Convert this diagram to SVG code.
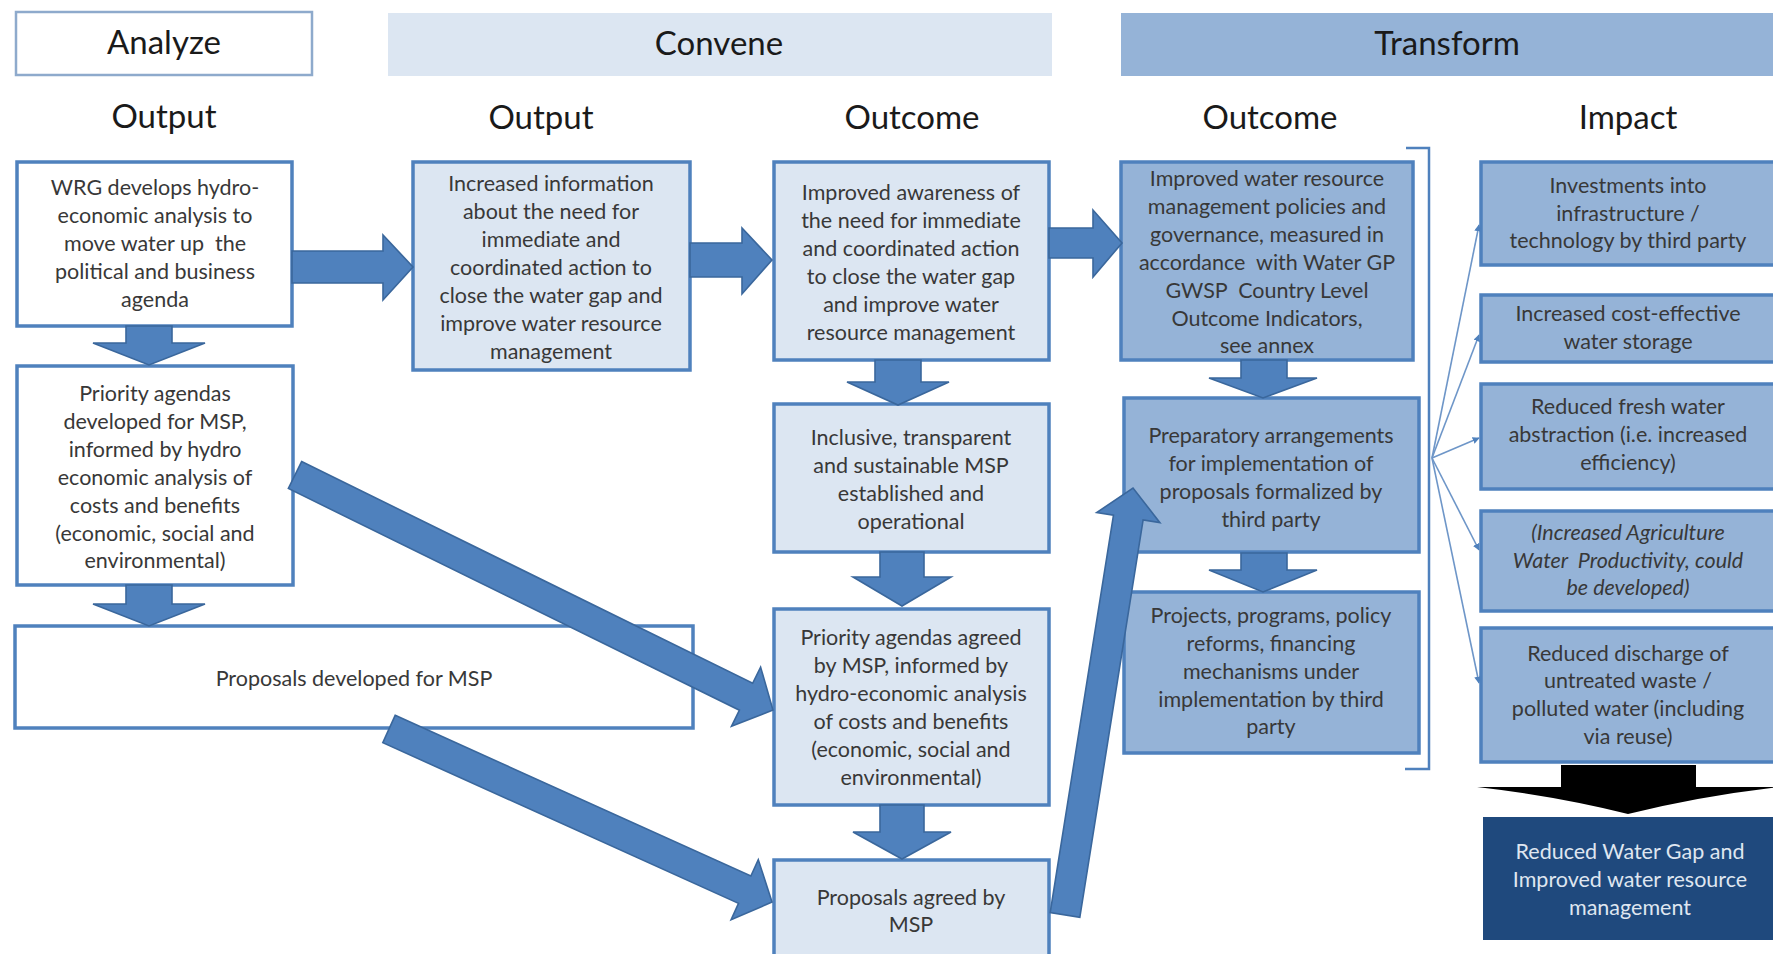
<svg xmlns="http://www.w3.org/2000/svg" width="1773" height="954" viewBox="0 0 1773 954">
<style>
text{font-family:Lato,"Liberation Sans",sans-serif;text-anchor:middle;}
.hd{font-size:33px;fill:#1a1a1a;}
.t{font-size:21.5px;fill:#383838;}
.tw{font-size:21.5px;fill:#dfe6f0;}
.it{font-style:italic;}
.pre{white-space:pre;}
.bw{fill:#ffffff;stroke:#4f81bd;stroke-width:3.5;}
.bl{fill:#dce6f2;stroke:#4f81bd;stroke-width:3.5;}
.bm{fill:#95b3d7;stroke:#4f81bd;stroke-width:3.5;}
.ar{fill:#4f81bd;stroke:#3a679c;stroke-width:1.6;stroke-linejoin:miter;}
.thin{fill:none;stroke:#6e96c8;stroke-width:1.6;}
</style>
<defs>
<marker id="ah" viewBox="0 0 10 10" refX="9" refY="5" markerWidth="7" markerHeight="7" orient="auto" markerUnits="userSpaceOnUse">
<path d="M0,0 L10,5 L0,10 Z" fill="#4f81bd"/>
</marker>
</defs>
<rect x="0" y="0" width="1773" height="954" fill="#ffffff"/>

<g id="hdr-analyze">
<rect x="16" y="12" width="296" height="63" fill="#ffffff" stroke="#8eaacc" stroke-width="2.5"/>
<text class="hd" x="164" y="54">Analyze</text>
</g>
<g id="hdr-convene">
<rect x="388" y="13" width="664" height="63" fill="#dce6f2"/>
<text class="hd" x="719" y="55">Convene</text>
</g>
<g id="hdr-transform">
<rect x="1121" y="13" width="660" height="63" fill="#95b3d7"/>
<text class="hd" x="1447" y="55">Transform</text>
</g>

<g id="col-heads">
<text class="hd" x="164" y="128">Output</text>
<text class="hd" x="541" y="129">Output</text>
<text class="hd" x="912" y="129">Outcome</text>
<text class="hd" x="1270" y="129">Outcome</text>
<text class="hd" x="1628" y="129">Impact</text>
</g>

<g id="n-wrg">
<rect class="bw" x="17" y="162" width="275" height="164"/>
<text class="t" x="155" y="195">WRG develops hydro-</text>
<text class="t" x="155" y="223">economic analysis to</text>
<text class="t pre" x="155" y="251">move water up  the</text>
<text class="t" x="155" y="279">political and business</text>
<text class="t" x="155" y="307">agenda</text>
</g>

<g id="n-info">
<rect class="bl" x="413" y="162" width="277" height="208"/>
<text class="t" x="551" y="191">Increased information</text>
<text class="t" x="551" y="219">about the need for</text>
<text class="t" x="551" y="247">immediate and</text>
<text class="t" x="551" y="275">coordinated action to</text>
<text class="t" x="551" y="303">close the water gap and</text>
<text class="t" x="551" y="331">improve water resource</text>
<text class="t" x="551" y="359">management</text>
</g>

<g id="n-awareness">
<rect class="bl" x="774" y="162" width="275" height="198"/>
<text class="t" x="911" y="200">Improved awareness of</text>
<text class="t" x="911" y="228">the need for immediate</text>
<text class="t" x="911" y="256">and coordinated action</text>
<text class="t" x="911" y="284">to close the water gap</text>
<text class="t" x="911" y="312">and improve water</text>
<text class="t" x="911" y="340">resource management</text>
</g>

<g id="n-policies">
<rect class="bm" x="1121" y="162" width="292" height="198"/>
<text class="t" x="1267" y="186">Improved water resource</text>
<text class="t" x="1267" y="214">management policies and</text>
<text class="t" x="1267" y="242">governance, measured in</text>
<text class="t pre" x="1267" y="270">accordance  with Water GP</text>
<text class="t pre" x="1267" y="298">GWSP  Country Level</text>
<text class="t" x="1267" y="326">Outcome Indicators,</text>
<text class="t" x="1267" y="353">see annex</text>
</g>

<g id="n-priority-dev">
<rect class="bw" x="17" y="366" width="276" height="219"/>
<text class="t" x="155" y="401">Priority agendas</text>
<text class="t" x="155" y="429">developed for MSP,</text>
<text class="t" x="155" y="457">informed by hydro</text>
<text class="t" x="155" y="485">economic analysis of</text>
<text class="t" x="155" y="513">costs and benefits</text>
<text class="t" x="155" y="541">(economic, social and</text>
<text class="t" x="155" y="568">environmental)</text>
</g>

<g id="n-proposals-dev">
<rect class="bw" x="15" y="626" width="678" height="102"/>
<text class="t" x="354" y="686">Proposals developed for MSP</text>
</g>

<g id="n-inclusive">
<rect class="bl" x="774" y="404" width="275" height="148"/>
<text class="t" x="911" y="445">Inclusive, transparent</text>
<text class="t" x="911" y="473">and sustainable MSP</text>
<text class="t" x="911" y="501">established and</text>
<text class="t" x="911" y="529">operational</text>
</g>

<g id="n-priority-agreed">
<rect class="bl" x="774" y="609" width="275" height="196"/>
<text class="t" x="911" y="645">Priority agendas agreed</text>
<text class="t" x="911" y="673">by MSP, informed by</text>
<text class="t" x="911" y="701">hydro-economic analysis</text>
<text class="t" x="911" y="729">of costs and benefits</text>
<text class="t" x="911" y="757">(economic, social and</text>
<text class="t" x="911" y="785">environmental)</text>
</g>

<g id="n-proposals-agreed">
<rect class="bl" x="774" y="860" width="275" height="110"/>
<text class="t" x="911" y="905">Proposals agreed by</text>
<text class="t" x="911" y="932">MSP</text>
</g>

<g id="n-preparatory">
<rect class="bm" x="1124" y="398" width="295" height="154"/>
<text class="t" x="1271" y="443">Preparatory arrangements</text>
<text class="t" x="1271" y="471">for implementation of</text>
<text class="t" x="1271" y="499">proposals formalized by</text>
<text class="t" x="1271" y="527">third party</text>
</g>

<g id="n-projects">
<rect class="bm" x="1124" y="592" width="295" height="161"/>
<text class="t" x="1271" y="623">Projects, programs, policy</text>
<text class="t" x="1271" y="651">reforms, financing</text>
<text class="t" x="1271" y="679">mechanisms under</text>
<text class="t" x="1271" y="707">implementation by third</text>
<text class="t" x="1271" y="734">party</text>
</g>

<g id="n-investments">
<rect class="bm" x="1481" y="162" width="310" height="103"/>
<text class="t" x="1628" y="193">Investments into</text>
<text class="t" x="1628" y="221">infrastructure /</text>
<text class="t" x="1628" y="248">technology by third party</text>
</g>

<g id="n-storage">
<rect class="bm" x="1481" y="295" width="310" height="67"/>
<text class="t" x="1628" y="321">Increased cost-effective</text>
<text class="t" x="1628" y="349">water storage</text>
</g>

<g id="n-abstraction">
<rect class="bm" x="1481" y="384" width="310" height="105"/>
<text class="t" x="1628" y="414">Reduced fresh water</text>
<text class="t" x="1628" y="442">abstraction (i.e. increased</text>
<text class="t" x="1628" y="470">efficiency)</text>
</g>

<g id="n-agriculture">
<rect class="bm" x="1481" y="511" width="310" height="100"/>
<text class="t it" x="1628" y="540">(Increased Agriculture</text>
<text class="t it pre" x="1628" y="568">Water  Productivity, could</text>
<text class="t it" x="1628" y="595">be developed)</text>
</g>

<g id="n-discharge">
<rect class="bm" x="1481" y="628" width="310" height="134"/>
<text class="t" x="1628" y="661">Reduced discharge of</text>
<text class="t" x="1628" y="688">untreated waste /</text>
<text class="t" x="1628" y="716">polluted water (including</text>
<text class="t" x="1628" y="744">via reuse)</text>
</g>

<g id="n-result">
<rect x="1483" y="817" width="300" height="123" fill="#1f497d"/>
<text class="tw" x="1630" y="859">Reduced Water Gap and</text>
<text class="tw" x="1630" y="887">Improved water resource</text>
<text class="tw" x="1630" y="915">management</text>
</g>

<g id="connectors">
<path class="ar" d="M292,251 H383 V235 L413,267 L383,300 V283 H292 Z"/>
<path class="ar" d="M690,243 H742 V228 L772,260 L742,294 V277 H690 Z"/>
<path class="ar" d="M1049,228 H1093 V210 L1122,243 L1093,277 V258 H1049 Z"/>
<path class="ar" d="M126,326 H172 V343 H205 L149,365 L93,343 H126 Z"/>
<path class="ar" d="M126,585 H172 V604 H205 L149,626 L93,604 H126 Z"/>
<path class="ar" d="M875,360 H921 V382 H949 L898,405 L847,382 H875 Z"/>
<path class="ar" d="M880,552 H924 V577 H951 L902,606 L853,577 H880 Z"/>
<path class="ar" d="M880,805 H924 V832 H951 L902,859 L853,832 H880 Z"/>
<path class="ar" d="M1241,360 H1287 V378 H1317 L1263,398 L1209,378 H1241 Z"/>
<path class="ar" d="M1241,553 H1287 V570 H1317 L1263,592 L1209,570 H1241 Z"/>
<path class="ar" transform="translate(295,475) rotate(26.18)" d="M0,-15 H502.6 V-33 L532.6,0 L502.6,33 V15 H0 Z"/>
<path class="ar" transform="translate(389,729) rotate(24.31)" d="M0,-15 H390.3 V-33 L420.3,0 L390.3,33 V15 H0 Z"/>
<path class="ar" transform="translate(1065,915) rotate(-80.95)" d="M0,-15 H402.4 V-32 L432.4,0 L402.4,32 V15 H0 Z"/>
<path d="M1406,148 H1429 V769 H1405" fill="none" stroke="#4f81bd" stroke-width="2.5"/>
<line class="thin" x1="1432" y1="458" x2="1479" y2="225" marker-end="url(#ah)"/>
<line class="thin" x1="1432" y1="458" x2="1479" y2="335" marker-end="url(#ah)"/>
<line class="thin" x1="1432" y1="458" x2="1479" y2="438" marker-end="url(#ah)"/>
<line class="thin" x1="1432" y1="458" x2="1479" y2="550" marker-end="url(#ah)"/>
<line class="thin" x1="1432" y1="458" x2="1479" y2="683" marker-end="url(#ah)"/>
<path d="M1561,765 H1696 V787 H1779 Q1700,796 1628,814 Q1556,796 1477,787 H1561 Z" fill="#000000"/>
</g>
</svg>
